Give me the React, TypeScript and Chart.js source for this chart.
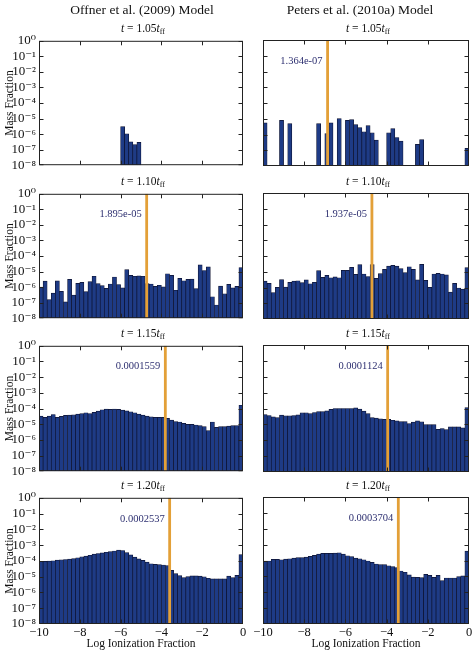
import React, { useEffect, useRef } from 'react';
import { Chart, registerables } from 'chart.js';

Chart.register(...registerables);

// Histogram bins: 50 bins of 0.2 dex spanning log ionization fraction -10 .. 0
const binCenters = Array.from({ length: 50 }, (_, i) => -9.9 + 0.2 * i);

// log10 of the mass fraction in each bin (null = empty bin)
const offner105 = [
  null, null, null, null, null, null, null, null, null, null,
  null, null, null, null, null, null, null, null, null, null,
  -5.52, -5.98, -6.5, -6.67, -6.53, null, null, null, null, null,
  null, null, null, null, null, null, null, null, null, null,
  null, null, null, null, null, null, null, null, null, null,
];
const peters105 = [
  -5.26, null, null, null, -5.1, null, -5.31, null, null, null,
  null, null, null, -5.31, null, -5.94, -5.26, null, -4.99, null,
  -5.1, -5.05, -5.37, -5.56, -5.83, -5.43, -5.89, -6.36, null, null,
  -5.89, -5.62, -6.19, -6.42, null, null, null, -6.63, -6.32, null,
  null, null, null, null, null, null, null, null, null, -6.88,
];
const offner110 = [
  -6.0, -5.62, -6.8, -6.38, -5.6, -6.27, -6.95, -5.5, -6.52, -5.76,
  -5.7, -6.29, -5.65, -5.3, -5.78, -5.9, -6.08, -5.8, -5.35, -5.83,
  -6.05, -4.87, -5.24, -5.3, -5.28, -5.3, -5.78, -5.8, -5.95, -5.88,
  -5.99, -5.14, -5.25, -6.2, -5.44, -5.59, -5.5, -5.48, -6.1, -4.57,
  -4.93, -4.7, -6.62, -7.15, -5.93, -6.43, -5.82, -6.05, -5.95, -4.74,
];
const peters110 = [
  -5.59, -5.74, -6.33, -5.99, -5.5, -5.97, -5.67, -5.6, -5.57, -5.69,
  -5.52, -5.76, -5.67, -4.93, -5.35, -5.23, -5.38, -5.33, -5.38, -4.91,
  -4.91, -4.72, -5.16, -4.55, -5.14, -5.3, -4.55, -5.42, -5.12, -4.85,
  -4.64, -4.6, -4.64, -4.8, -5.06, -4.68, -4.85, -5.52, -4.53, -5.54,
  -5.99, -5.14, -5.1, -5.14, -5.2, -6.29, -5.74, -6.03, -6.1, -4.74,
];
const offner115 = [
  -4.48, -4.57, -4.48, -4.38, -4.57, -4.5, -4.44, -4.42, -4.4, -4.36,
  -4.32, -4.27, -4.32, -4.25, -4.17, -4.08, -4.04, -4.06, -4.04, -4.06,
  -4.1, -4.15, -4.21, -4.27, -4.36, -4.42, -4.48, -4.53, -4.57, -4.57,
  -4.57, -4.63, -4.74, -4.84, -4.86, -4.95, -5.01, -5.01, -5.05, -5.09,
  -5.16, -5.41, -4.86, -5.2, -5.16, -5.16, -5.12, -5.09, -5.09, -3.79,
];
const peters115 = [
  -4.38, -4.44, -4.53, -4.57, -4.42, -4.46, -4.46, -4.44, -4.4, -4.27,
  -4.27, -4.32, -4.25, -4.19, -4.19, -4.15, -4.06, -4.0, -4.0, -4.0,
  -4.0, -4.0, -3.96, -4.04, -4.17, -4.32, -4.57, -4.61, -4.65, -4.69,
  -4.69, -4.74, -4.78, -4.82, -4.82, -4.95, -4.86, -4.78, -4.84, -5.01,
  -5.01, -5.01, -5.31, -5.26, -5.33, -5.16, -5.16, -5.16, -5.22, -3.94,
];
const offner120 = [
  -4.05, -4.03, -4.01, -3.99, -3.95, -3.93, -3.91, -3.89, -3.85, -3.8,
  -3.74, -3.7, -3.64, -3.57, -3.53, -3.49, -3.45, -3.41, -3.37, -3.32,
  -3.34, -3.47, -3.62, -3.76, -3.87, -3.97, -4.08, -4.18, -4.22, -4.24,
  -4.26, -4.3, -4.6, -4.81, -4.93, -5.06, -5.0, -4.95, -4.95, -4.97,
  -5.01, -5.1, -5.14, -5.14, -5.14, -5.14, -4.97, -5.06, -4.91, -3.6,
];
const peters120 = [
  -4.03, -4.03, -3.93, -3.93, -3.95, -3.91, -3.89, -3.85, -3.82, -3.82,
  -3.78, -3.74, -3.68, -3.6, -3.55, -3.55, -3.55, -3.53, -3.51, -3.6,
  -3.7, -3.76, -3.85, -3.89, -3.95, -4.03, -4.12, -4.22, -4.26, -4.26,
  -4.33, -4.39, -4.45, -4.66, -4.74, -4.91, -5.04, -5.06, -5.08, -4.87,
  -4.93, -5.06, -4.93, -5.27, -5.1, -5.1, -5.1, -5.01, -4.97, -3.41,
];

// mass-weighted mean ionization fraction per snapshot (null = none drawn)
const offnerMeans = [null, 1.895e-5, 1.559e-4, 2.537e-4];
const petersMeans = [1.364e-7, 1.937e-5, 1.124e-4, 3.704e-4];

const timeLabels = ['1.05', '1.10', '1.15', '1.20'];
const columnTitles = ['Offner et al. (2009) Model', 'Peters et al. (2010a) Model'];
const xTickValues = [-10, -8, -6, -4, -2, 0];
const xTickLabels = ['\u221210', '\u22128', '\u22126', '\u22124', '\u22122', '0'];
const yTickExponents = [0, -1, -2, -3, -4, -5, -6, -7, -8];
const yTickLabels = ['10⁰', '10⁻¹', '10⁻²', '10⁻³', '10⁻⁴', '10⁻⁵', '10⁻⁶', '10⁻⁷', '10⁻⁸'];

const offnerSeries = [offner105, offner110, offner115, offner120];
const petersSeries = [peters105, peters110, peters115, peters120];

// layout (pixels)
const FONT = "'Liberation Serif', 'DejaVu Serif', serif";
const AXES_TOP = [40, 193, 345, 497];
const AXES_H = [126, 126, 127, 127];
const COL_AXES = [
  { left: 39, right: 243 },
  { left: 263, right: 469 },
];
const PAD_TOP = 10;
const PAD_BOTTOM = 10;
const X_AXIS_H = 27;
const Y_AXIS_W = 39;

const BAR_FILL = '#1e3b86';
const BAR_EDGE = '#0d1230';
const MEAN_COLOR = '#e3a038';
const LABEL_COLOR = '#2d2f70';

function formatMean(v: number): string {
  if (v < 1e-4) {
    const [m, e] = v.toExponential(3).split('e');
    const n = parseInt(e, 10);
    return `${m}e${n < 0 ? '-' : '+'}${String(Math.abs(n)).padStart(2, '0')}`;
  }
  return String(v);
}

// frame, inward tick marks and the mean-value annotation
const panelDecor = {
  id: 'panelDecor',
  afterDatasetsDraw(chart: any, _args: any, opts: any) {
    const { ctx, chartArea: a, scales } = chart;
    const x = scales.x;
    const y = scales.y;
    const l = a.left + 0.5;
    const r = a.right - 0.5;
    const t = a.top + 0.5;
    const b = a.bottom - 0.5;
    ctx.save();
    ctx.strokeStyle = '#222';
    ctx.lineWidth = 1;
    ctx.beginPath();
    for (const v of xTickValues) {
      const px = Math.min(r, Math.max(l, Math.round(x.getPixelForValue(v)) + 0.5));
      ctx.moveTo(px, b);
      ctx.lineTo(px, b - 4);
      ctx.moveTo(px, t);
      ctx.lineTo(px, t + 4);
    }
    for (const e of yTickExponents) {
      const py = Math.min(b, Math.max(t, Math.round(y.getPixelForValue(Math.pow(10, e))) + 0.5));
      ctx.moveTo(l, py);
      ctx.lineTo(l + 4, py);
      ctx.moveTo(r, py);
      ctx.lineTo(r - 4, py);
    }
    ctx.stroke();
    ctx.strokeRect(l, t, r - l, b - t);

    if (opts && opts.mean != null) {
      const lx = x.getPixelForValue(Math.log10(opts.mean));
      ctx.font = `10.5px ${FONT}`;
      ctx.fillStyle = LABEL_COLOR;
      ctx.textAlign = 'right';
      ctx.textBaseline = 'middle';
      ctx.fillText(formatMean(opts.mean), lx - 5, y.getPixelForValue(Math.pow(10, -1.33)));
    }
    ctx.restore();
  },
};

type PanelProps = { values: (number | null)[]; mean: number | null; row: number; col: number };

function Panel({ values, mean, row, col }: PanelProps) {
  const ref = useRef<HTMLCanvasElement>(null);
  const isLeft = col === 0;
  const isBottom = row === AXES_TOP.length - 1;
  const canvasLeft = isLeft ? 0 : 250;
  const width = isLeft ? 250 : 225;
  const top = AXES_TOP[row] - PAD_TOP;
  const height = PAD_TOP + AXES_H[row] + (isBottom ? X_AXIS_H : PAD_BOTTOM);
  const axes = COL_AXES[col];

  useEffect(() => {
    if (!ref.current) return;
    const datasets: any[] = [];
    if (mean != null) {
      const lx = Math.log10(mean);
      datasets.push({
        type: 'line',
        data: [
          { x: lx, y: 1e-8 },
          { x: lx, y: 1 },
        ],
        borderColor: MEAN_COLOR,
        borderWidth: 2.8,
        pointRadius: 0,
        order: 0,
      });
    }
    datasets.push({
      type: 'bar',
      data: binCenters.map((x, i) => ({
        x,
        y: values[i] == null ? null : Math.pow(10, values[i] as number),
      })),
      backgroundColor: BAR_FILL,
      borderColor: BAR_EDGE,
      borderWidth: 0.7,
      borderSkipped: 'start',
      barPercentage: 1,
      categoryPercentage: 1,
      order: 1,
    });

    const chart = new Chart(ref.current, {
      type: 'bar',
      data: { datasets },
      options: {
        animation: false,
        responsive: false,
        maintainAspectRatio: false,
        events: [],
        layout: {
          padding: {
            left: isLeft ? axes.left - canvasLeft - Y_AXIS_W : axes.left - canvasLeft,
            right: canvasLeft + width - axes.right,
            top: PAD_TOP,
            bottom: isBottom ? 0 : PAD_BOTTOM,
          },
        },
        plugins: {
          legend: { display: false },
          tooltip: { enabled: false },
          panelDecor: { mean },
        } as any,
        scales: {
          x: {
            type: 'linear',
            min: -10,
            max: 0,
            offset: false,
            display: isBottom,
            grid: { display: false, drawTicks: false, offset: false },
            border: { display: false },
            ticks: {
              stepSize: 2,
              autoSkip: false,
              maxRotation: 0,
              padding: 1,
              color: '#111',
              font: { family: FONT, size: 12.5 },
              callback: (v: any) => {
                const i = xTickValues.indexOf(Math.round(Number(v)));
                return i >= 0 ? xTickLabels[i] : null;
              },
            },
            title: {
              display: true,
              text: 'Log Ionization Fraction',
              color: '#111',
              font: { family: FONT, size: 11.5 },
              padding: { top: 0, bottom: 0 },
            },
            afterFit: (s: any) => {
              s.height = isBottom ? X_AXIS_H : 0;
            },
          },
          y: {
            type: 'logarithmic',
            min: 1e-8,
            max: 1,
            display: isLeft,
            grid: { display: false, drawTicks: false },
            border: { display: false },
            ticks: {
              autoSkip: false,
              padding: 3,
              color: '#111',
              font: { family: FONT, size: 13 },
              callback: (v: any) => {
                const e = Math.log10(Number(v));
                const r = Math.round(e);
                if (Math.abs(e - r) > 1e-6) return null;
                const i = yTickExponents.indexOf(r);
                return i >= 0 ? yTickLabels[i] : null;
              },
            },
            title: {
              display: true,
              text: 'Mass Fraction',
              color: '#111',
              font: { family: FONT, size: 11.5 },
              padding: { top: 3, bottom: 0 },
            },
            afterFit: (s: any) => {
              s.width = isLeft ? Y_AXIS_W : 0;
            },
          },
        },
      } as any,
      plugins: [panelDecor],
    });
    return () => chart.destroy();
  }, []);

  return (
    <canvas
      ref={ref}
      width={width}
      height={height}
      style={{ position: 'absolute', left: canvasLeft, top, width, height }}
    />
  );
}

export default function App() {
  const panels: React.ReactNode[] = [];
  const titles: React.ReactNode[] = [];
  for (let row = 0; row < AXES_TOP.length; row++) {
    for (let col = 0; col < 2; col++) {
      const series = col === 0 ? offnerSeries[row] : petersSeries[row];
      const mean = col === 0 ? offnerMeans[row] : petersMeans[row];
      panels.push(<Panel key={`p${row}${col}`} values={series} mean={mean} row={row} col={col} />);
      const cx = (COL_AXES[col].left + COL_AXES[col].right) / 2 + 2;
      titles.push(
        <div
          key={`t${row}${col}`}
          style={{
            position: 'absolute',
            left: cx,
            top: AXES_TOP[row] - 11,
            transform: 'translate(-50%, -50%)',
            fontSize: 11.5,
            lineHeight: 1,
            whiteSpace: 'nowrap',
            color: '#111',
          }}
        >
          <i>t</i> = {timeLabels[row]}
          <i>t</i>
          <span style={{ fontSize: 8, position: 'relative', top: 2 }}>ff</span>
        </div>
      );
    }
  }

  return (
    <div
      style={{
        position: 'absolute',
        left: 0,
        top: 0,
        width: 475,
        height: 651,
        background: '#fff',
        overflow: 'hidden',
        fontFamily: FONT,
      }}
    >
      {panels}
      {titles}
      {columnTitles.map((t, i) => (
        <div
          key={t}
          style={{
            position: 'absolute',
            left: i === 0 ? 142 : 360,
            top: 10,
            transform: 'translate(-50%, -50%)',
            fontSize: 13.5,
            lineHeight: 1,
            whiteSpace: 'nowrap',
            color: '#111',
          }}
        >
          {t}
        </div>
      ))}
    </div>
  );
}
